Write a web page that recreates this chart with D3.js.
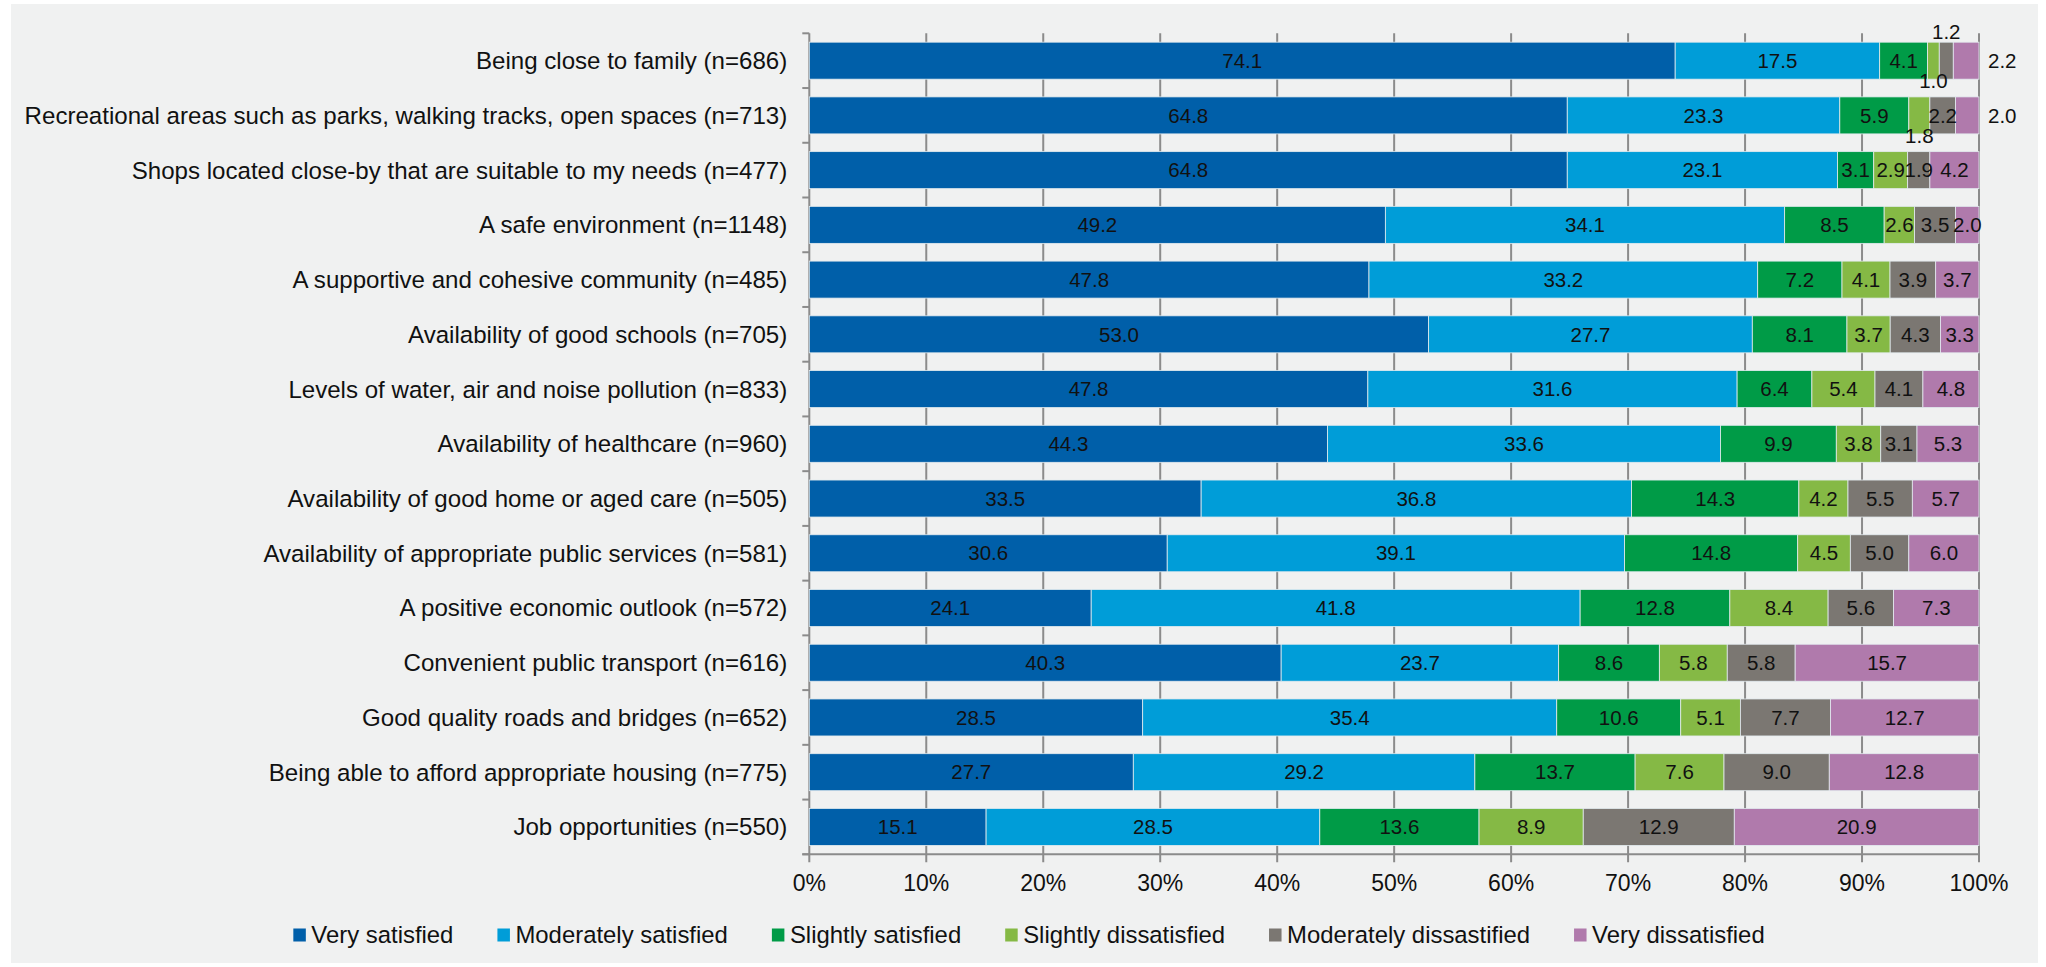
<!DOCTYPE html>
<html>
<head>
<meta charset="utf-8">
<script src="https://cdn.jsdelivr.net/npm/d3@7"></script>
<style>
  body { margin: 0; background: #fff; }
  svg { display: block; font-family: "Liberation Sans", Arial, sans-serif; }
</style>
</head>
<body>
<script>
const categories = [
  "Being close to family (n=686)",
  "Recreational areas such as parks, walking tracks, open spaces (n=713)",
  "Shops located close-by that are suitable to my needs (n=477)",
  "A safe environment (n=1148)",
  "A supportive and cohesive community (n=485)",
  "Availability of good schools (n=705)",
  "Levels of water, air and noise pollution (n=833)",
  "Availability of healthcare (n=960)",
  "Availability of good home or aged care (n=505)",
  "Availability of appropriate public services (n=581)",
  "A positive economic outlook (n=572)",
  "Convenient public transport (n=616)",
  "Good quality roads and bridges (n=652)",
  "Being able to afford appropriate housing (n=775)",
  "Job opportunities (n=550)"
];

const seriesNames = [
  "Very satisfied", "Moderately satisfied", "Slightly satisfied",
  "Slightly dissatisfied", "Moderately dissastified", "Very dissatisfied"
];

const verySatisfied       = [74.1, 64.8, 64.8, 49.2, 47.8, 53.0, 47.8, 44.3, 33.5, 30.6, 24.1, 40.3, 28.5, 27.7, 15.1];
const moderatelySatisfied = [17.5, 23.3, 23.1, 34.1, 33.2, 27.7, 31.6, 33.6, 36.8, 39.1, 41.8, 23.7, 35.4, 29.2, 28.5];
const slightlySatisfied   = [4.1, 5.9, 3.1, 8.5, 7.2, 8.1, 6.4, 9.9, 14.3, 14.8, 12.8, 8.6, 10.6, 13.7, 13.6];
const slightlyDissat      = [1.0, 1.8, 2.9, 2.6, 4.1, 3.7, 5.4, 3.8, 4.2, 4.5, 8.4, 5.8, 5.1, 7.6, 8.9];
const moderatelyDissat    = [1.2, 2.2, 1.9, 3.5, 3.9, 4.3, 4.1, 3.1, 5.5, 5.0, 5.6, 5.8, 7.7, 9.0, 12.9];
const veryDissatisfied    = [2.2, 2.0, 4.2, 2.0, 3.7, 3.3, 4.8, 5.3, 5.7, 6.0, 7.3, 15.7, 12.7, 12.8, 20.9];

const xTicks = [0, 0.1, 0.2, 0.3, 0.4, 0.5, 0.6, 0.7, 0.8, 0.9, 1];

const colors = ["#005fa9", "#009dd8", "#009b47", "#85b945", "#7b7772", "#b07aac"];

// small segments whose labels sit outside the bar: [row, series, where]
const outsideLabels = [[0, 3, "below"], [0, 4, "above"], [0, 5, "right"], [1, 3, "below"], [1, 5, "right"]];

const width = 2046, height = 967;
const margin = {top: 33.3, right: 67, bottom: 112.7, left: 809.3};

const allValues = [verySatisfied, moderatelySatisfied, slightlySatisfied, slightlyDissat, moderatelyDissat, veryDissatisfied];
const data = categories.map((c, i) => {
  const row = {category: c};
  seriesNames.forEach((s, j) => row[s] = allValues[j][i]);
  return row;
});

const stack = d3.stack()
    .keys(seriesNames)
    .offset(d3.stackOffsetExpand);
const stacked = stack(data);

const x = d3.scaleLinear()
    .domain([0, 1])
    .range([margin.left, width - margin.right]);

const y = d3.scaleBand()
    .domain(categories)
    .range([margin.top, height - margin.bottom])
    .paddingInner(0.324)
    .paddingOuter(0.162);

const color = d3.scaleOrdinal().domain(seriesNames).range(colors);
const fmt = d3.format(".1f");
const gridColor = "#8b8b8b";
const y0 = margin.top, y1 = height - margin.bottom;

const svg = d3.select("body").append("svg")
    .attr("width", width)
    .attr("height", height);

svg.append("rect")
    .attr("x", 11).attr("y", 4)
    .attr("width", 2027).attr("height", 959)
    .attr("fill", "#f0f1f1");

// vertical gridlines with tick marks below the axis
svg.append("g")
  .selectAll("line")
  .data(xTicks)
  .join("line")
    .attr("x1", d => x(d)).attr("x2", d => x(d))
    .attr("y1", y0).attr("y2", y1 + 8)
    .attr("stroke", gridColor)
    .attr("stroke-width", 2);

// y axis band ticks
const bandEdges = categories.map(c => y(c) - y.step() * y.paddingInner() / 2).concat([y1]);
svg.append("g")
  .selectAll("line")
  .data(bandEdges)
  .join("line")
    .attr("x1", margin.left - 7).attr("x2", margin.left)
    .attr("y1", d => d).attr("y2", d => d)
    .attr("stroke", gridColor)
    .attr("stroke-width", 2);

svg.append("line")
    .attr("x1", margin.left - 7).attr("x2", x(1))
    .attr("y1", y1).attr("y2", y1)
    .attr("stroke", gridColor)
    .attr("stroke-width", 2);

// bars
const layer = svg.append("g")
  .selectAll("g")
  .data(stacked)
  .join("g")
    .attr("fill", d => color(d.key));

layer.selectAll("rect")
  .data(d => d)
  .join("rect")
    .attr("x", d => x(d[0]))
    .attr("y", d => y(d.data.category))
    .attr("width", d => x(d[1]) - x(d[0]))
    .attr("height", y.bandwidth())
    .attr("stroke", "#e3ebef")
    .attr("stroke-width", 0.8);

// value labels
const labels = [];
stacked.forEach((s, j) => s.forEach((d, i) => {
  const o = outsideLabels.find(p => p[0] === i && p[1] === j);
  const top = y(d.data.category), cx = (x(d[0]) + x(d[1])) / 2;
  let lx = cx, ly = top + y.bandwidth() / 2, anchor = "middle";
  if (o && o[2] === "above") ly = top - 10;
  if (o && o[2] === "below") ly = top + y.bandwidth() + 2;
  if (o && o[2] === "right") { lx = x(1) + 9; anchor = "start"; }
  labels.push({text: fmt(d.data[s.key]), x: lx, y: ly, anchor});
}));

svg.append("g")
    .attr("font-size", 20.5)
    .attr("fill", "#111")
  .selectAll("text")
  .data(labels)
  .join("text")
    .attr("x", d => d.x)
    .attr("y", d => d.y)
    .attr("dy", "0.35em")
    .attr("text-anchor", d => d.anchor)
    .text(d => d.text);

// category labels
svg.append("g")
    .attr("font-size", 24.1)
    .attr("fill", "#111")
    .attr("text-anchor", "end")
  .selectAll("text")
  .data(categories)
  .join("text")
    .attr("x", margin.left - 22)
    .attr("y", d => y(d) + y.bandwidth() / 2)
    .attr("dy", "0.35em")
    .text(d => d);

// x tick labels
svg.append("g")
    .attr("font-size", 23)
    .attr("fill", "#111")
    .attr("text-anchor", "middle")
  .selectAll("text")
  .data(xTicks)
  .join("text")
    .attr("x", d => x(d))
    .attr("y", 883)
    .attr("dy", "0.35em")
    .text(d3.format(".0%"));

// legend, centred under the chart
const legend = svg.append("g")
    .attr("font-size", 23.9)
    .attr("fill", "#111");

let lx = 0;
seriesNames.forEach(name => {
  const g = legend.append("g").attr("transform", `translate(${lx},935)`);
  g.append("rect")
      .attr("x", 0).attr("y", -6.5)
      .attr("width", 12.5).attr("height", 13)
      .attr("fill", color(name));
  const t = g.append("text")
      .attr("x", 18)
      .attr("dy", "0.35em")
      .text(name);
  lx += 18 + t.node().getComputedTextLength() + 44;
});
const legendWidth = lx - 44;
legend.attr("transform", `translate(${1029 - legendWidth / 2},0)`);
</script>
</body>
</html>
